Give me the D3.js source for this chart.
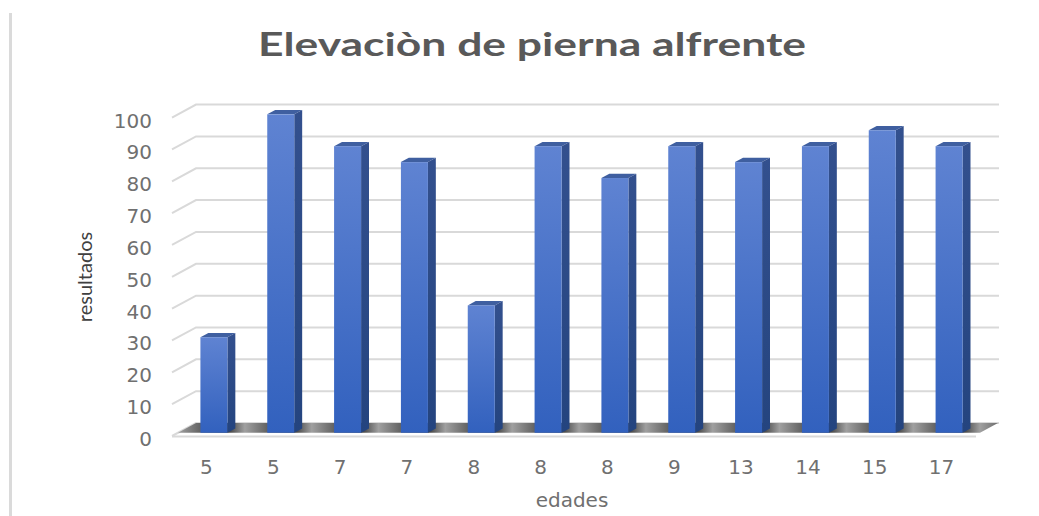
<!DOCTYPE html>
<html>
<head>
<meta charset="utf-8">
<script src="https://cdn.jsdelivr.net/npm/d3@7"></script>
<style>
  body { margin: 0; background: #ffffff; }
  svg { display: block; }
</style>
</head>
<body>
<svg id="chart"></svg>
<script>
const width = 1039;
const height = 516;

// data
const edades = ["5", "5", "7", "7", "8", "8", "8", "9", "13", "14", "15", "17"];
const resultados = [30, 100, 90, 85, 40, 90, 80, 90, 85, 90, 95, 90];
const yTicks = [0, 10, 20, 30, 40, 50, 60, 70, 80, 90, 100];

const titleText = "Elevaciòn de pierna alfrente";
const yTitle = "resultados";
const xTitle = "edades";

// fake 3d: how far the back wall sits from the front plane
const depthX = 24;
const depthY = -13;
const barFront = 0.25;
const barBack = 0.58;
const barHalf = 13.5;

var svg = d3.select("#chart")
    .attr("width", width)
    .attr("height", height);

svg.append("rect")
    .attr("width", width)
    .attr("height", height)
    .attr("fill", "#ffffff");

// left border of the chart area
svg.append("line")
    .attr("x1", 10.5).attr("x2", 10.5)
    .attr("y1", 13).attr("y2", height)
    .attr("stroke", "#dadada")
    .attr("stroke-width", 3);

var idx = d3.range(edades.length);

var x = d3.scaleBand()
    .domain(idx)
    .range([172, 974]);

var y = d3.scaleLinear()
    .domain([0, 100])
    .range([436, 117.6]);

// project (x on front plane, value, depth 0..1) to screen
function P(xx, v, t) {
    return [xx + depthX * t, y(v) + depthY * t];
}

var defs = svg.append("defs");

var front = defs.append("linearGradient")
    .attr("id", "barFront")
    .attr("x1", 0).attr("y1", 0).attr("x2", 0).attr("y2", 1);
front.append("stop").attr("offset", "0%").attr("stop-color", "#5f83d2");
front.append("stop").attr("offset", "100%").attr("stop-color", "#3261be");

var side = defs.append("linearGradient")
    .attr("id", "barSide")
    .attr("x1", 0).attr("y1", 0).attr("x2", 0).attr("y2", 1);
side.append("stop").attr("offset", "0%").attr("stop-color", "#33508e");
side.append("stop").attr("offset", "100%").attr("stop-color", "#24447f");

// floor shading repeats once per category
var floorGrad = defs.append("linearGradient")
    .attr("id", "floorGrad")
    .attr("gradientUnits", "userSpaceOnUse")
    .attr("spreadMethod", "repeat")
    .attr("x1", x(0) + 6).attr("x2", x(0) + 6 + x.bandwidth())
    .attr("y1", 0).attr("y2", 0);
floorGrad.append("stop").attr("offset", "0%").attr("stop-color", "#a0a0a0");
floorGrad.append("stop").attr("offset", "35%").attr("stop-color", "#606060");
floorGrad.append("stop").attr("offset", "72%").attr("stop-color", "#333333");
floorGrad.append("stop").attr("offset", "86%").attr("stop-color", "#6a6a6a");
floorGrad.append("stop").attr("offset", "100%").attr("stop-color", "#a0a0a0");

//1. gridlines: short diagonal from the front corner then along the back wall
var x0 = x.range()[0];
var grid = svg.append("g");
grid.selectAll("path")
    .data(yTicks).enter()
    .append("path")
    .attr("d", d => {
        var a = P(x0, d, 0), b = P(x0, d, 1);
        return `M${a[0]},${a[1]}L${b[0]},${b[1]}L999,${b[1]}`;
    })
    .attr("fill", "none")
    .attr("stroke", "#d9d9d9")
    .attr("stroke-width", 2);

//2. floor
var x1 = x.range()[1];
var floorPts = [P(x0, 0, barFront), P(x1, 0, barFront), P(x1, 0, 1), P(x0, 0, 1)];
svg.append("polygon")
    .attr("points", floorPts.map(p => p.join(",")).join(" "))
    .attr("fill", "url(#floorGrad)");

svg.append("line")
    .attr("x1", x0).attr("x2", x1 + 2)
    .attr("y1", y(0) + 0.5).attr("y2", y(0) + 0.5)
    .attr("stroke", "#d9d9d9")
    .attr("stroke-width", 2);

//3. bars
var bars = svg.append("g")
    .selectAll("g")
    .data(idx).enter()
    .append("g");

function cx(i) { return x(i) + x.bandwidth() / 2 + 2.5; }

bars.append("polygon")
    .attr("points", i => {
        var v = resultados[i];
        return [P(cx(i) - barHalf, v, barFront), P(cx(i) + barHalf, v, barFront),
                P(cx(i) + barHalf, v, barBack), P(cx(i) - barHalf, v, barBack)]
            .map(p => p.join(",")).join(" ");
    })
    .attr("fill", "#3f5fa0");

bars.append("polygon")
    .attr("points", i => {
        var v = resultados[i];
        return [P(cx(i) + barHalf, v, barFront), P(cx(i) + barHalf, v, barBack),
                P(cx(i) + barHalf, 0, barBack), P(cx(i) + barHalf, 0, barFront)]
            .map(p => p.join(",")).join(" ");
    })
    .attr("fill", "url(#barSide)");

bars.append("rect")
    .attr("x", i => P(cx(i) - barHalf, 0, barFront)[0])
    .attr("y", i => P(0, resultados[i], barFront)[1])
    .attr("width", barHalf * 2)
    .attr("height", i => y(0) - y(resultados[i]))
    .attr("fill", "url(#barFront)");

//4. axes (labels only, Excel draws no axis lines here)
var yAxis = svg.append("g")
    .attr("transform", "translate(152, 3)")
    .call(d3.axisLeft(y).tickValues(yTicks).tickSize(0).tickPadding(0));
yAxis.select(".domain").remove();
yAxis.selectAll("text")
    .attr("font-family", "DejaVu Sans")
    .attr("font-size", 20)
    .attr("fill", "#707070");

var xAxis = svg.append("g")
    .attr("transform", `translate(1, ${y(0)})`)
    .call(d3.axisBottom(x).tickFormat(i => edades[i]).tickSize(0).tickPadding(24));
xAxis.select(".domain").remove();
xAxis.selectAll("text")
    .attr("font-family", "DejaVu Sans")
    .attr("font-size", 20)
    .attr("fill", "#707070");

//5. titles
svg.append("text")
    .attr("x", 532)
    .attr("y", 56)
    .attr("text-anchor", "middle")
    .attr("font-family", "Lato")
    .attr("font-weight", 700)
    .attr("font-size", 33)
    .attr("textLength", 548)
    .attr("lengthAdjust", "spacingAndGlyphs")
    .attr("fill", "#595959")
    .text(titleText);

svg.append("text")
    .attr("transform", "translate(92, 277) rotate(-90)")
    .attr("text-anchor", "middle")
    .attr("font-family", "Lato")
    .attr("font-size", 20)
    .attr("fill", "#404040")
    .text(yTitle);

svg.append("text")
    .attr("x", 572)
    .attr("y", 507)
    .attr("text-anchor", "middle")
    .attr("font-family", "DejaVu Sans")
    .attr("font-size", 20)
    .attr("fill", "#707070")
    .text(xTitle);
</script>
</body>
</html>
